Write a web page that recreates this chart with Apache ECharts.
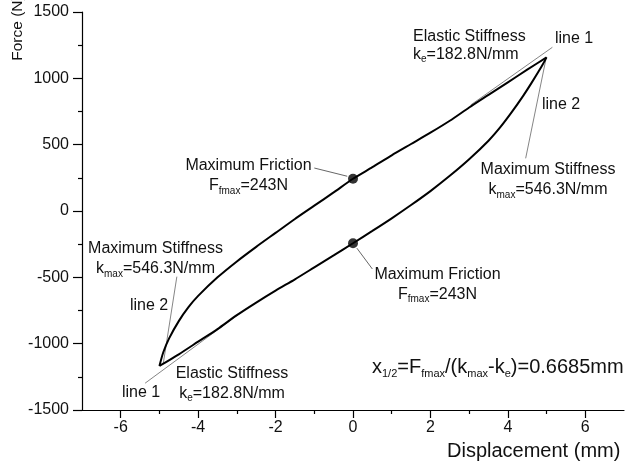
<!DOCTYPE html>
<html>
<head>
<meta charset="utf-8">
<script src="https://cdn.jsdelivr.net/npm/echarts@6/dist/echarts.min.js"></script>
<style>
html, body { margin: 0; padding: 0; background: #fff; }
#chart { width: 626px; height: 466px; }
</style>
</head>
<body>
<div id="chart"></div>
<script>
// Force–displacement hysteresis loop of the friction damper
const upperDisp  = [-5, -4.9, -4.75, -4.5, -4.25, -4.0, -3.5, -3.0, -2.5, -2.0, -1.5, -1.0, -0.5, 0, 0.5, 1, 1.5, 2, 2.5, 3, 3.5, 4, 4.5, 5];
const upperForce = [-1168, -1065, -960, -830, -725, -640, -500, -380, -270, -165, -60, 40, 140, 243, 330, 420, 505, 590, 680, 780, 875, 970, 1065, 1158];
const lowerDisp  = [-5, -4.5, -4, -3.5, -3, -2.5, -2, -1.5, -1, -0.5, 0, 0.5, 1, 1.5, 2, 2.5, 3, 3.5, 3.8, 4.1, 4.4, 4.6, 4.8, 4.9, 5];
const lowerForce = [-1168, -1080, -985, -890, -785, -690, -600, -515, -425, -335, -243, -150, -55, 45, 150, 265, 390, 530, 630, 745, 870, 960, 1055, 1105, 1158];

// maximum friction points at zero displacement
const frictionDisp  = [0, 0];
const frictionForce = [243, -243];

// stiffness reference lines (end points in mm, N)
const line1Upper = [[3.04, 799], [5.15, 1234]];
const line2Upper = [[4.98, 1140], [4.46, 397]];
const line1Lower = [[-5.37, -1298], [-2.74, -733]];
const line2Lower = [[-4.9, -1148], [-4.55, -495]];

// leader arrows pointing at the friction points
const arrowUpper = [[-1.0, 324], [-0.15, 262]];
const arrowLower = [[0.5, -437], [0.1, -280]];

// axis ticks
const xMajorTicks = [-6, -4, -2, 0, 2, 4, 6];
const xMinorTicks = [-5, -3, -1, 1, 3, 5];

const FONT = '"Liberation Sans", Arial, Helvetica, sans-serif';
const INK = '#111';

const pairs = (xs, ys) => xs.map((x, i) => [x, ys[i]]);

const chart = echarts.init(document.getElementById('chart'), null, { renderer: 'canvas' });

function refLine(points) {
  return {
    type: 'line', data: points, showSymbol: false, silent: true, z: 1,
    lineStyle: { color: '#777', width: 0.9 }
  };
}

function note(x, y, text, align, lineHeight, fontSize, subSize, subLH) {
  fontSize = fontSize || 16;
  subSize = subSize || 10;
  return {
    type: 'text', x: x, y: y, silent: true, z: 10,
    style: {
      text: text,
      fontFamily: FONT, fontSize: fontSize,
      lineHeight: lineHeight || 19,
      fill: INK,
      align: align || 'left',
      verticalAlign: 'top',
      rich: {
        s: { fontFamily: FONT, fontSize: subSize, lineHeight: subLH || 9, verticalAlign: 'bottom', fill: INK }
      }
    }
  };
}

const option = {
  backgroundColor: '#fff',
  animation: false,
  grid: { left: 82, right: 2, top: 12, bottom: 56, containLabel: false },
  xAxis: [
    {
      type: 'value', min: -7, max: 7, interval: 1,
      axisLine: { onZero: false, lineStyle: { color: '#000', width: 1.2 } },
      axisTick: { customValues: xMajorTicks, length: 8, inside: false, lineStyle: { color: '#000', width: 1.2 } },
      axisLabel: { customValues: xMajorTicks, fontFamily: FONT, fontSize: 16, color: INK, margin: 10, formatter: v => String(v) },
      splitLine: { show: false }
    },
    {
      type: 'value', min: -7, max: 7, interval: 1, position: 'bottom',
      axisLine: { show: false, onZero: false },
      axisTick: { customValues: xMinorTicks, length: 4, inside: false, lineStyle: { color: '#000', width: 1.2 } },
      axisLabel: { show: false },
      splitLine: { show: false }
    }
  ],
  yAxis: {
    type: 'value', min: -1500, max: 1500, interval: 500,
    axisLine: { show: true, onZero: false, lineStyle: { color: '#000', width: 1.2 } },
    axisTick: { show: true, length: 9, inside: false, lineStyle: { color: '#000', width: 1.2 } },
    minorTick: { show: true, splitNumber: 2, length: 4, lineStyle: { color: '#000', width: 1.2 } },
    axisLabel: { fontFamily: FONT, fontSize: 16, color: INK, margin: 13, formatter: v => String(v) },
    splitLine: { show: false }
  },
  series: [
    refLine(line1Upper), refLine(line2Upper), refLine(line1Lower), refLine(line2Lower),
    {
      type: 'line', data: pairs(upperDisp, upperForce), showSymbol: false,
      smooth: 0.25, z: 3,
      lineStyle: { color: '#000', width: 2 }
    },
    {
      type: 'line', data: pairs(lowerDisp, lowerForce), showSymbol: false,
      smooth: 0.25, z: 3,
      lineStyle: { color: '#000', width: 2 }
    },
    {
      type: 'scatter', data: pairs(frictionDisp, frictionForce), z: 5,
      symbol: 'circle', symbolSize: 10, itemStyle: { color: '#000' },
      markLine: {
        silent: true, symbol: ['none', 'arrow'], symbolSize: [0, 8],
        label: { show: false },
        lineStyle: { color: '#555', width: 0.9, type: 'solid' },
        data: [
          [{ coord: arrowUpper[0] }, { coord: arrowUpper[1] }],
          [{ coord: arrowLower[0] }, { coord: arrowLower[1] }]
        ]
      }
    }
  ],
  graphic: [
    note(413, 28, 'Elastic Stiffness\nk{s|e}=182.8N/mm', 'left', 18),
    note(555, 29, 'line 1'),
    note(542, 95, 'line 2'),
    note(548, 160, 'Maximum Stiffness\nk{s|max}=546.3N/mm', 'center', 20),
    note(248.5, 156, 'Maximum Friction\nF{s|fmax}=243N', 'center', 20),
    note(437.5, 264.5, 'Maximum Friction\nF{s|fmax}=243N', 'center', 20),
    note(155.5, 239, 'Maximum Stiffness\nk{s|max}=546.3N/mm', 'center', 20),
    note(130, 296.5, 'line 2'),
    note(122, 383.5, 'line 1'),
    note(232, 363.5, 'Elastic Stiffness\nk{s|e}=182.8N/mm', 'center', 20),
    note(372, 355, 'x{s|1/2}=F{s|fmax}/(k{s|max}-k{s|e})=0.6685mm', 'left', 24, 20, 11, 12),
    {
      type: 'text', x: 447, y: 439, silent: true,
      style: { text: 'Displacement (mm)', fontFamily: FONT, fontSize: 20, lineHeight: 24, fill: INK, align: 'left', verticalAlign: 'top' }
    },
    {
      type: 'text', x: 18, y: 28, rotation: Math.PI / 2, silent: true,
      style: { text: 'Force (N)', fontFamily: FONT, fontSize: 15.5, fill: INK, align: 'center', verticalAlign: 'middle' }
    }
  ]
};

chart.setOption(option);
</script>
</body>
</html>
